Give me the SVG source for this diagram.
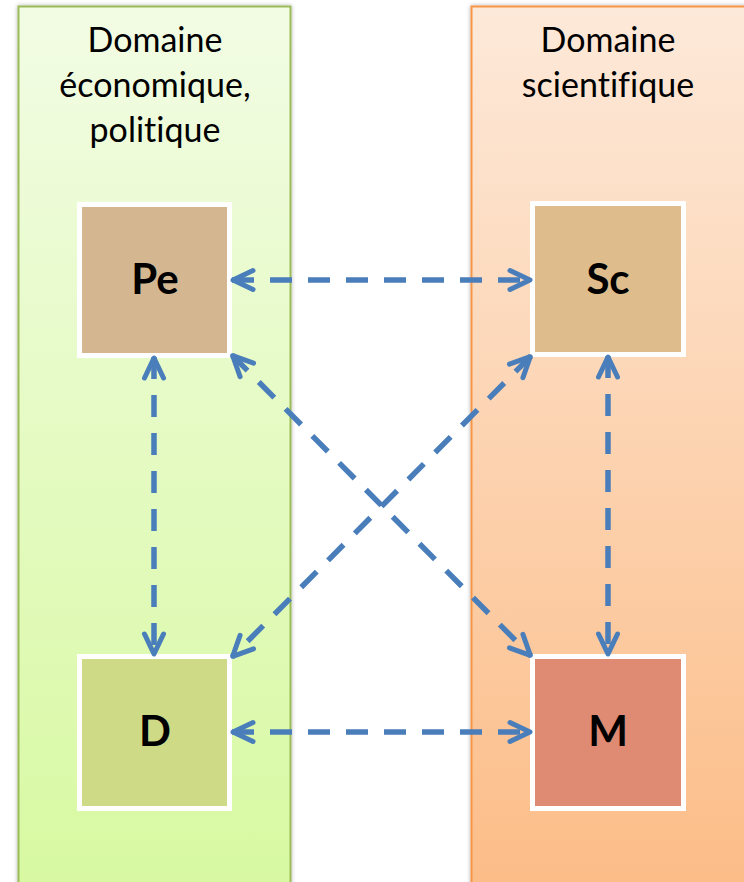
<svg xmlns="http://www.w3.org/2000/svg" width="744" height="882" viewBox="0 0 744 882">
<defs>
<linearGradient id="gLeft" x1="0" y1="0" x2="0" y2="1">
<stop offset="0" stop-color="#F2FCE4"/>
<stop offset="1" stop-color="#D7F9A0"/>
</linearGradient>
<linearGradient id="gRight" x1="0" y1="0" x2="0" y2="1">
<stop offset="0" stop-color="#FDE9D9"/>
<stop offset="1" stop-color="#FCBC86"/>
</linearGradient>
<filter id="sh" x="-10%" y="-10%" width="120%" height="120%">
<feDropShadow dx="0" dy="0" stdDeviation="2" flood-color="#000" flood-opacity="0.3"/>
</filter>
<marker id="ah" viewBox="-26 -14 30 28" markerWidth="30" markerHeight="28" refX="0" refY="0" orient="auto-start-reverse" markerUnits="userSpaceOnUse">
<path d="M -21 -9.5 L -1 0 L -21 9.5" fill="none" stroke="#4A7EBB" stroke-width="5" stroke-linecap="round" stroke-linejoin="round"/>
</marker>
</defs>
<style>
.hdr{font-family:Lato,"Open Sans",sans-serif;font-size:34px;fill:#000;text-anchor:middle;font-variant-ligatures:none;font-feature-settings:"liga" 0,"clig" 0;letter-spacing:0.01px}
.lbl{font-family:Lato,"Open Sans",sans-serif;font-size:42px;font-weight:bold;fill:#000;text-anchor:middle}
.box{stroke:#FFFFFF;stroke-width:5}
.con{fill:none;stroke:#4A7EBB;stroke-width:5.5;stroke-dasharray:22 16;marker-start:url(#ah);marker-end:url(#ah)}
</style>
<rect width="744" height="882" fill="#FFFFFF"/>
<g id="domaine-economique">
<rect x="18.5" y="6.5" width="272" height="900" fill="url(#gLeft)" stroke="#9BBB59" stroke-width="2" filter="url(#sh)"/>
<text class="hdr" x="155" y="52">Domaine</text>
<text class="hdr" x="155" y="97">économique,</text>
<text class="hdr" x="155" y="142">politique</text>
</g>
<g id="domaine-scientifique">
<rect x="471.5" y="6.5" width="300" height="900" fill="url(#gRight)" stroke="#F79646" stroke-width="2" filter="url(#sh)"/>
<text class="hdr" x="608" y="52">Domaine</text>
<text class="hdr" x="608" y="97">scientifique</text>
</g>
<g id="Pe">
<rect class="box" x="79.5" y="204.5" width="150" height="151" fill="#D4B791"/>
<text class="lbl" x="155" y="294">Pe</text>
</g>
<g id="Sc">
<rect class="box" x="532.5" y="203.5" width="151" height="151" fill="#DEBC8B"/>
<text class="lbl" x="608" y="294">Sc</text>
</g>
<g id="D">
<rect class="box" x="79.5" y="656.5" width="150" height="152" fill="#CEDA86"/>
<text class="lbl" x="155" y="746">D</text>
</g>
<g id="M">
<rect class="box" x="532.5" y="656.5" width="151" height="152" fill="#DF8A72"/>
<text class="lbl" x="608" y="746">M</text>
</g>
<g id="connectors">
<path class="con" d="M 232 280 L 531 280"/>
<path class="con" d="M 232 732 L 531 732"/>
<path class="con" d="M 154 357 L 154 655"/>
<path class="con" d="M 608 356 L 608 655"/>
<path class="con" d="M 232 355 L 531 656"/>
<path class="con" d="M 531 356 L 232 657"/>
</g>
</svg>
